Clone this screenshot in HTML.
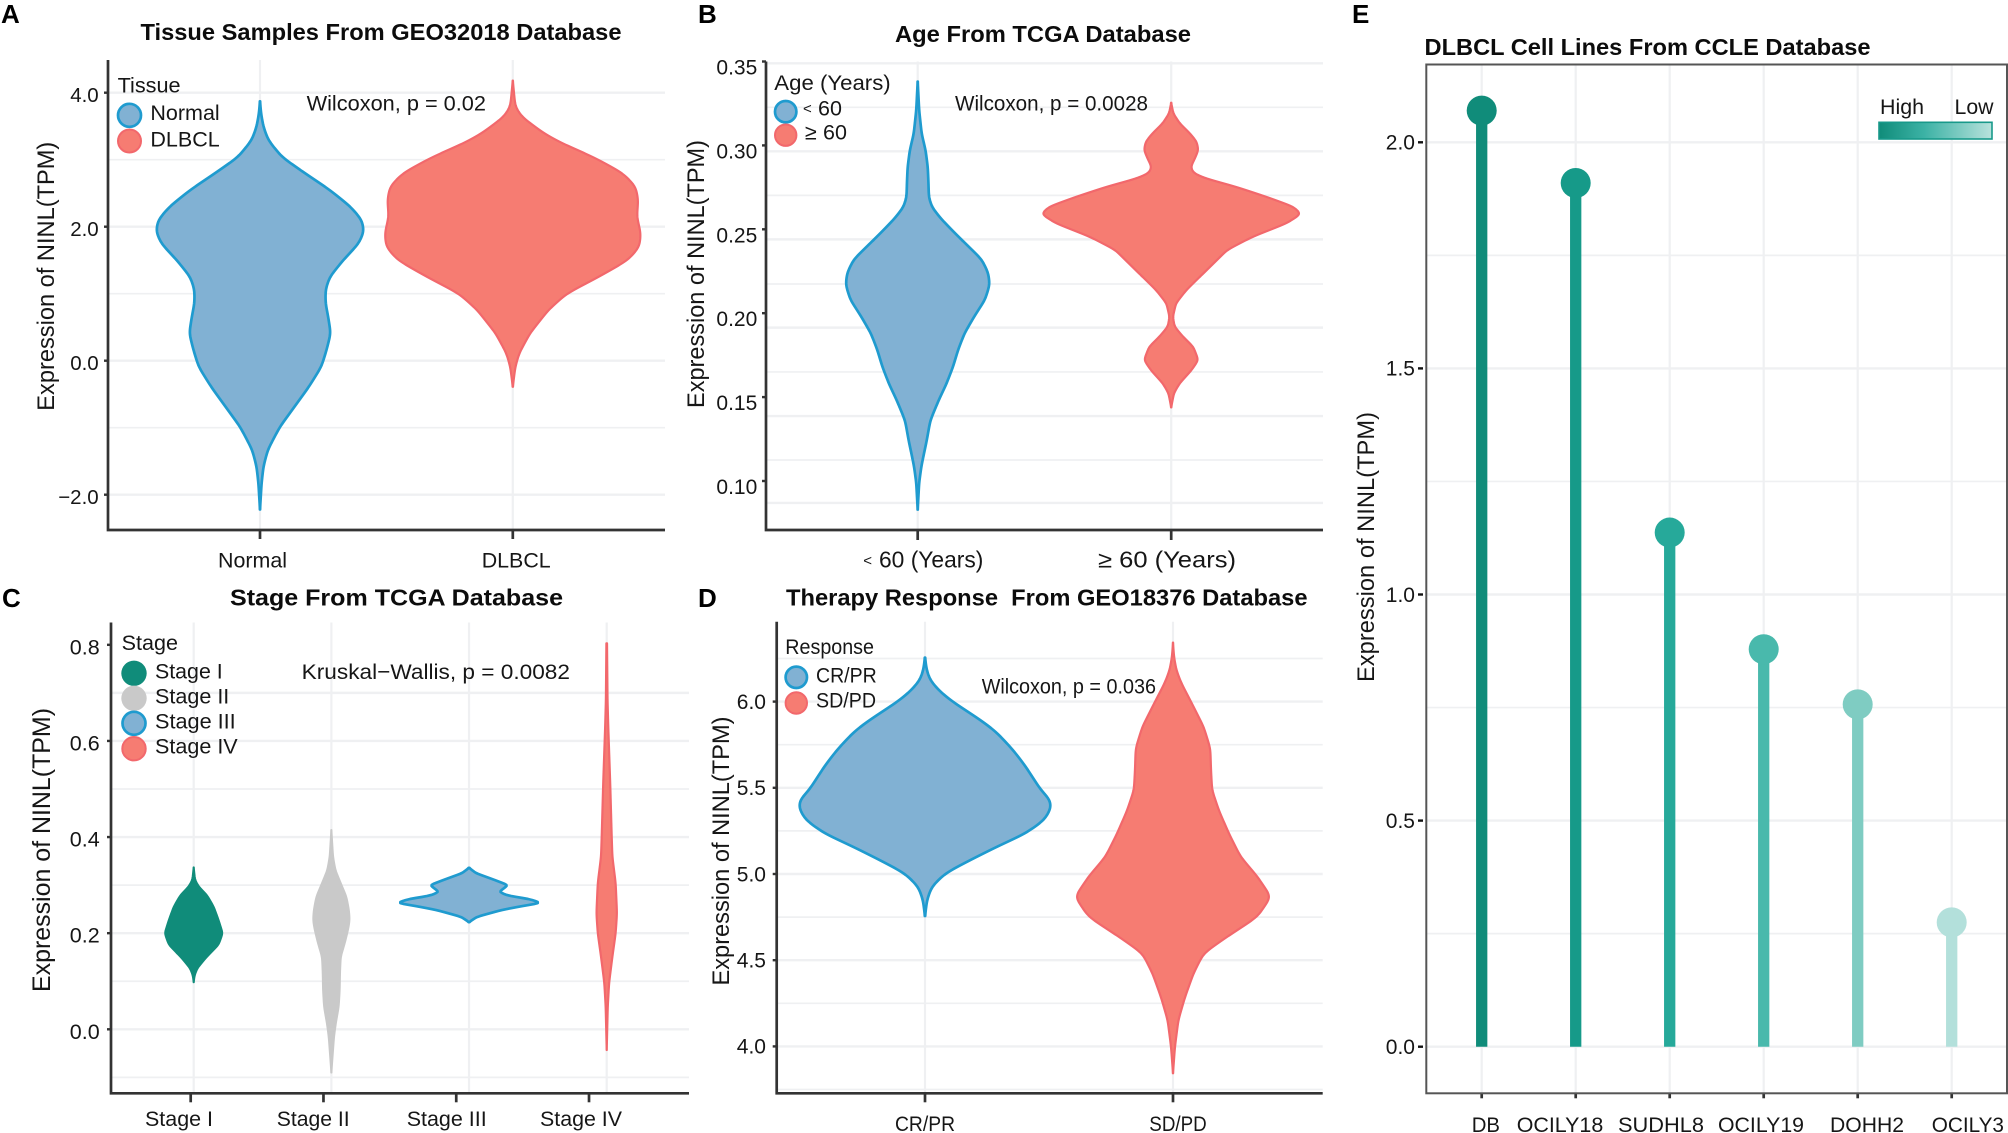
<!DOCTYPE html>
<html lang="en">
<head>
<meta charset="utf-8">
<title>NINL expression panels</title>
<style>
  html, body { margin: 0; padding: 0; background: #fff; }
  svg { display: block; }
  text { font-family: "Liberation Sans", Arial, sans-serif; fill: #161616; }
  .t { font-weight: 700; font-size: 23px; fill: #0c0c0c; }
  .p { font-weight: 700; font-size: 26px; fill: #000; }
  .l { font-size: 21.5px; }
</style>
</head>
<body>
<svg id="figure" xmlns="http://www.w3.org/2000/svg" width="2008" height="1133" viewBox="0 0 2008 1133">
  <rect width="2008" height="1133" fill="#fff"/>
  <g id="marks"></g>

  <text class="p" x="1" y="23">A</text>
  <text class="p" x="698" y="23">B</text>
  <text class="p" x="2" y="607">C</text>
  <text class="p" x="698" y="607">D</text>
  <text class="p" x="1352" y="23">E</text>

  <text class="t" x="140.5" y="40" textLength="481" lengthAdjust="spacingAndGlyphs">Tissue Samples From GEO32018 Database</text>
  <text class="t" x="895" y="42" textLength="296" lengthAdjust="spacingAndGlyphs">Age From TCGA Database</text>
  <text class="t" x="230" y="605.5" textLength="333" lengthAdjust="spacingAndGlyphs">Stage From TCGA Database</text>
  <text class="t" x="786" y="605.5" textLength="521.5" lengthAdjust="spacingAndGlyphs" xml:space="preserve">Therapy Response  From GEO18376 Database</text>
  <text class="t" x="1424.5" y="55" textLength="446" lengthAdjust="spacingAndGlyphs">DLBCL Cell Lines From CCLE Database</text>

  <text transform="translate(54,276.2) rotate(-90)" text-anchor="middle" font-size="24" textLength="269" lengthAdjust="spacingAndGlyphs">Expression of NINL(TPM)</text>
  <text transform="translate(704,274) rotate(-90)" text-anchor="middle" font-size="24" textLength="268" lengthAdjust="spacingAndGlyphs">Expression of NINL(TPM)</text>
  <text transform="translate(50,850) rotate(-90)" text-anchor="middle" font-size="25" textLength="284" lengthAdjust="spacingAndGlyphs">Expression of NINL(TPM)</text>
  <text transform="translate(729,851) rotate(-90)" text-anchor="middle" font-size="24" textLength="269" lengthAdjust="spacingAndGlyphs">Expression of NINL(TPM)</text>
  <text transform="translate(1374,547) rotate(-90)" text-anchor="middle" font-size="24" textLength="270" lengthAdjust="spacingAndGlyphs">Expression of NINL(TPM)</text>

  <!-- category labels -->
  <text class="l" x="218" y="567.3" textLength="69" lengthAdjust="spacingAndGlyphs">Normal</text>
  <text class="l" x="481.7" y="567.3" textLength="69" lengthAdjust="spacingAndGlyphs">DLBCL</text>
  <text x="863.3" y="567.3" font-size="22.8"><tspan font-size="15" dy="-2">&lt;</tspan><tspan x="879" dy="2">60 (Years)</tspan></text>
  <text x="1098" y="567.3" font-size="23" textLength="138" lengthAdjust="spacingAndGlyphs">≥ 60 (Years)</text>
  <text class="l" x="145" y="1126" textLength="68" lengthAdjust="spacingAndGlyphs">Stage I</text>
  <text class="l" x="276.7" y="1126" textLength="73" lengthAdjust="spacingAndGlyphs">Stage II</text>
  <text class="l" x="406.7" y="1126" textLength="80" lengthAdjust="spacingAndGlyphs">Stage III</text>
  <text class="l" x="540" y="1126" textLength="82" lengthAdjust="spacingAndGlyphs">Stage IV</text>
  <text class="l" x="895" y="1131" textLength="60" lengthAdjust="spacingAndGlyphs">CR/PR</text>
  <text class="l" x="1149.3" y="1131" textLength="57.4" lengthAdjust="spacingAndGlyphs">SD/PD</text>
  <text class="l" x="1471.7" y="1132" textLength="28.3" lengthAdjust="spacingAndGlyphs">DB</text>
  <text class="l" x="1516.7" y="1132" textLength="86.6" lengthAdjust="spacingAndGlyphs">OCILY18</text>
  <text class="l" x="1618" y="1132" textLength="86" lengthAdjust="spacingAndGlyphs">SUDHL8</text>
  <text class="l" x="1718" y="1132" textLength="86" lengthAdjust="spacingAndGlyphs">OCILY19</text>
  <text class="l" x="1830" y="1132" textLength="74" lengthAdjust="spacingAndGlyphs">DOHH2</text>
  <text class="l" x="1931.7" y="1132" textLength="72.3" lengthAdjust="spacingAndGlyphs">OCILY3</text>

  <!-- statistics -->
  <text class="l" x="306.6" y="110.7" textLength="179.4" lengthAdjust="spacingAndGlyphs">Wilcoxon, p = 0.02</text>
  <text class="l" x="955" y="110.7" textLength="193" lengthAdjust="spacingAndGlyphs">Wilcoxon, p = 0.0028</text>
  <text class="l" x="301.7" y="679" textLength="268.3" lengthAdjust="spacingAndGlyphs">Kruskal−Wallis, p = 0.0082</text>
  <text class="l" x="981.7" y="693.3" textLength="174.3" lengthAdjust="spacingAndGlyphs">Wilcoxon, p = 0.036</text>

  <!-- legend A -->
  <g>
    <text class="l" x="117.6" y="92.7" textLength="63" lengthAdjust="spacingAndGlyphs">Tissue</text>
    <circle cx="129.5" cy="115.3" r="11.5" fill="#81b1d3" stroke="#1f9bcf" stroke-width="2.7"/>
    <circle cx="129.5" cy="141" r="11.5" fill="#f67c72" stroke="#f2686c" stroke-width="2"/>
    <text class="l" x="150.4" y="120" textLength="69.3" lengthAdjust="spacingAndGlyphs">Normal</text>
    <text class="l" x="150.4" y="146.7" textLength="69.3" lengthAdjust="spacingAndGlyphs">DLBCL</text>
  </g>
  <!-- legend B -->
  <g>
    <text class="l" x="774.3" y="90" textLength="116.4" lengthAdjust="spacingAndGlyphs">Age (Years)</text>
    <circle cx="785.7" cy="111.7" r="10.7" fill="#81b1d3" stroke="#1f9bcf" stroke-width="2.7"/>
    <circle cx="785.7" cy="135.2" r="10.7" fill="#f67c72" stroke="#f2686c" stroke-width="2"/>
    <text class="l" x="803" y="115.7"><tspan font-size="15" dy="-2">&lt;</tspan><tspan x="818" dy="2">60</tspan></text>
    <text class="l" x="805" y="139.3">≥<tspan x="823">60</tspan></text>
  </g>
  <!-- legend C -->
  <g>
    <text class="l" x="121.7" y="650" textLength="56.3" lengthAdjust="spacingAndGlyphs">Stage</text>
    <circle cx="134" cy="673.3" r="12.7" fill="#108c7a"/>
    <circle cx="134" cy="698.3" r="12.7" fill="#c9c9c9"/>
    <circle cx="134" cy="723.3" r="11.5" fill="#81b1d3" stroke="#1f9bcf" stroke-width="2.7"/>
    <circle cx="134" cy="748.7" r="11.7" fill="#f67c72" stroke="#f2686c" stroke-width="2"/>
    <text class="l" x="155" y="678.3" textLength="67.7" lengthAdjust="spacingAndGlyphs">Stage I</text>
    <text class="l" x="155" y="703.3" textLength="74.3" lengthAdjust="spacingAndGlyphs">Stage II</text>
    <text class="l" x="155" y="728.3" textLength="80.7" lengthAdjust="spacingAndGlyphs">Stage III</text>
    <text class="l" x="155" y="753.3" textLength="82.7" lengthAdjust="spacingAndGlyphs">Stage IV</text>
  </g>
  <!-- legend D -->
  <g>
    <text class="l" x="785.3" y="654" textLength="88.7" lengthAdjust="spacingAndGlyphs">Response</text>
    <circle cx="796.3" cy="677.3" r="10.7" fill="#81b1d3" stroke="#1f9bcf" stroke-width="2.7"/>
    <circle cx="796.3" cy="703" r="10.7" fill="#f67c72" stroke="#f2686c" stroke-width="2"/>
    <text class="l" x="816" y="682.3" textLength="60.7" lengthAdjust="spacingAndGlyphs">CR/PR</text>
    <text class="l" x="816" y="707.7" textLength="60" lengthAdjust="spacingAndGlyphs">SD/PD</text>
  </g>
  <!-- legend E -->
  <defs>
    <linearGradient id="lowHigh" x1="0" x2="1" y1="0" y2="0">
      <stop offset="0" stop-color="#108c7a"/>
      <stop offset="0.4" stop-color="#3cb2a5"/>
      <stop offset="1" stop-color="#b8e2dc"/>
    </linearGradient>
  </defs>
  <g>
    <text class="l" x="1880" y="114" textLength="44" lengthAdjust="spacingAndGlyphs">High</text>
    <text class="l" x="1954.5" y="114" textLength="39" lengthAdjust="spacingAndGlyphs">Low</text>
    <rect x="1879" y="122.3" width="113" height="16.7" fill="url(#lowHigh)" stroke="#18998a" stroke-width="1.6"/>
  </g>
</svg>

<script>
// ---------- Panel A data ----------
const tissueTickValues = [4, 2, 0, -2];
const tissueTickLabels = ['4.0', '2.0', '0.0', '\u22122.0'];
const tissueGridMajor = [4, 2, 0, -2];
const tissueGridMinor = [3, 1, -1];
const normalLevels = [3.87, 3.69, 3.49, 3.29, 3.04, 2.80, 2.55, 2.30, 2.10, 1.93, 1.75, 1.50, 1.25, 1.06, 0.86, 0.66, 0.41, 0.16, -0.09, -0.39, -0.69, -0.99, -1.33, -1.58, -1.83, -2.22];
const normalDensity = [0, 0.01, 0.033, 0.08, 0.21, 0.43, 0.67, 0.87, 0.98, 1, 0.95, 0.80, 0.67, 0.63, 0.63, 0.655, 0.68, 0.64, 0.59, 0.47, 0.33, 0.19, 0.075, 0.033, 0.015, 0];
const dlbclLevels = [4.18, 3.79, 3.64, 3.39, 3.24, 3.04, 2.80, 2.60, 2.40, 2.15, 1.90, 1.70, 1.50, 1.25, 1.00, 0.76, 0.41, 0.11, -0.09, -0.39];
const dlbclDensity = [0, 0.02, 0.07, 0.245, 0.39, 0.63, 0.86, 0.96, 0.98, 0.97, 1, 0.99, 0.90, 0.67, 0.42, 0.28, 0.135, 0.05, 0.02, 0];

// ---------- Panel B data ----------
const ageTickValues = [0.35, 0.30, 0.25, 0.20, 0.15, 0.10];
const ageTickLabels = ['0.35', '0.30', '0.25', '0.20', '0.15', '0.10'];
const ageGridMajor = [0.3489, 0.2965, 0.2440, 0.1914, 0.1387, 0.0869];
const ageGridMinor = [0.3227, 0.2702, 0.2174, 0.1650, 0.1125];
const youngLevels = [0.338, 0.321, 0.307, 0.297, 0.287, 0.277, 0.269, 0.263, 0.256, 0.248, 0.240, 0.232, 0.224, 0.217, 0.208, 0.198, 0.188, 0.178, 0.168, 0.158, 0.148, 0.136, 0.124, 0.118, 0.1085, 0.099, 0.083];
const youngDensity = [0, 0.02, 0.055, 0.11, 0.14, 0.15, 0.155, 0.20, 0.33, 0.51, 0.70, 0.89, 0.98, 1, 0.935, 0.785, 0.65, 0.56, 0.49, 0.40, 0.29, 0.175, 0.125, 0.095, 0.05, 0.02, 0];
const olderLevels = [0.3254, 0.3191, 0.3132, 0.3072, 0.3022, 0.2973, 0.2923, 0.2873, 0.2834, 0.2804, 0.2754, 0.2694, 0.2635, 0.2591, 0.2536, 0.2456, 0.2377, 0.2297, 0.2218, 0.2138, 0.2059, 0.1979, 0.1920, 0.1860, 0.1800, 0.1721, 0.1661, 0.1582, 0.1523, 0.1439];
const olderDensity = [0, 0.016, 0.065, 0.144, 0.196, 0.209, 0.183, 0.151, 0.17, 0.261, 0.496, 0.731, 0.94, 1, 0.888, 0.627, 0.431, 0.326, 0.222, 0.117, 0.037, 0.013, 0.026, 0.091, 0.17, 0.209, 0.157, 0.065, 0.021, 0];

// ---------- Panel C data ----------
const stageTickValues = [0.8, 0.6, 0.4, 0.2, 0.0];
const stageTickLabels = ['0.8', '0.6', '0.4', '0.2', '0.0'];
const stageGridMajor = [0.7, 0.6, 0.4, 0.2, 0.0];
const stageGridMinor = [0.5, 0.3, 0.1, -0.1];
const stageOneLevels = [0.337, 0.311, 0.297, 0.279, 0.255, 0.227, 0.200, 0.176, 0.148, 0.127, 0.112, 0.098];
const stageOneDensity = [0, 0.046, 0.172, 0.46, 0.69, 0.86, 1, 0.86, 0.41, 0.125, 0.03, 0];
const stageTwoLevels = [0.4147, 0.359, 0.331, 0.304, 0.276, 0.248, 0.227, 0.207, 0.179, 0.151, 0.116, 0.082, 0.047, 0.012, -0.015, -0.043, -0.090];
const stageTwoDensity = [0, 0.09, 0.22, 0.51, 0.82, 0.96, 1, 0.91, 0.73, 0.51, 0.47, 0.455, 0.40, 0.24, 0.145, 0.09, 0];
const stageThreeLevels = [0.336, 0.325, 0.311, 0.300, 0.286, 0.278, 0.271, 0.263, 0.256, 0.248, 0.234, 0.223];
const stageThreeDensity = [0, 0.096, 0.35, 0.54, 0.42, 0.54, 0.84, 1, 0.72, 0.447, 0.11, 0];
const stageFourLevels = [0.803, 0.685, 0.63, 0.512, 0.401, 0.359, 0.304, 0.241, 0.200, 0.151, 0.096, 0.047, -0.043];
const stageFourDensity = [0.03, 0.08, 0.15, 0.34, 0.485, 0.55, 0.87, 1, 0.87, 0.55, 0.23, 0.10, 0];

// ---------- Panel D data ----------
const responseTickValues = [6.0, 5.5, 5.0, 4.5, 4.0];
const responseTickLabels = ['6.0', '5.5', '5.0', '4.5', '4.0'];
const responseGridMajor = [6.0, 5.5, 5.0, 4.5, 4.0];
const responseGridMinor = [6.25, 5.75, 5.25, 4.75, 4.25, 3.75];
const crLevels = [6.255, 6.183, 6.125, 6.067, 6.009, 5.951, 5.893, 5.835, 5.777, 5.700, 5.622, 5.487, 5.429, 5.381, 5.313, 5.236, 5.158, 5.081, 5.004, 4.926, 4.849, 4.756];
const crDensity = [0, 0.013, 0.04, 0.107, 0.20, 0.32, 0.44, 0.547, 0.627, 0.72, 0.80, 0.92, 0.995, 1, 0.947, 0.80, 0.57, 0.36, 0.16, 0.053, 0.016, 0];
const sdLevels = [6.342, 6.261, 6.183, 6.106, 6.028, 5.970, 5.854, 5.729, 5.603, 5.487, 5.371, 5.236, 5.100, 4.984, 4.868, 4.752, 4.636, 4.540, 4.424, 4.288, 4.153, 3.998, 3.844];
const sdDensity = [0, 0.01, 0.034, 0.086, 0.158, 0.21, 0.313, 0.381, 0.388, 0.399, 0.467, 0.57, 0.69, 0.863, 1, 0.863, 0.553, 0.313, 0.21, 0.124, 0.055, 0.02, 0];

// ---------- Panel E data ----------
const cellLines = ['DB', 'OCILY18', 'SUDHL8', 'OCILY19', 'DOHH2', 'OCILY3'];
const cellLineValues = [2.07, 1.91, 1.137, 0.879, 0.757, 0.275];
const cellTickValues = [2.0, 1.5, 1.0, 0.5, 0.0];
const cellTickLabels = ['2.0', '1.5', '1.0', '0.5', '0.0'];
const cellGridMajor = [2.0, 1.5, 1.0, 0.5, 0.0];
const cellGridMinor = [1.75, 1.25, 0.75, 0.25];
const rankPalette = ['#108c7a', '#169a89', '#26a99a', '#49b9ac', '#7fccc2', '#b3e0db'];

// ---------- drawing ----------
const SVG_NS = 'http://www.w3.org/2000/svg';
const root = document.getElementById('marks');
const GRID = '#eff0f2';
const AXIS = '#333333';
const BLUE = { fill: '#81b1d3', stroke: '#1f9bcf', width: 2.7 };
const RED = { fill: '#f67c72', stroke: '#f2686c', width: 2.2 };
const TEAL = { fill: '#108c7a', stroke: '#108c7a', width: 2 };
const GREY = { fill: '#c9c9c9', stroke: '#c9c9c9', width: 2 };

function node(tag, attrs, parent) {
  const el = document.createElementNS(SVG_NS, tag);
  for (const k in attrs) el.setAttribute(k, attrs[k]);
  (parent || root).appendChild(el);
  return el;
}

function linearY(y0, v0, pxPerUnit) {
  return function (v) { return y0 - (v - v0) * pxPerUnit; };
}

function gridH(list, width, y, left, right, name) {
  list.forEach(function (v) {
    const el = node('line', { x1: left, x2: right, y1: y(v), y2: y(v), stroke: GRID, 'stroke-width': width });
    
    
  });
}

function gridV(x, top, bottom, name) {
  const el = node('line', { x1: x, x2: x, y1: top, y2: bottom, stroke: GRID, 'stroke-width': 2.2 });
  
  
}

function yAxisTicks(values, labels, y, tickLeft, tickRight, labelX, baselineShift, size, color, name) {
  values.forEach(function (v, i) {
    const tick = node('line', { x1: tickLeft, x2: tickRight, y1: y(v), y2: y(v), stroke: color, 'stroke-width': 2.4 });
    
    
    const label = node('text', { x: labelX, y: y(v) + baselineShift, 'text-anchor': 'end', 'font-size': size });
    
    
    label.textContent = labels[i];
  });
}

function spines(left, top, right, bottom, name) {
  const el = node('path', { d: 'M' + left + ' ' + top + 'V' + bottom + 'H' + right, fill: 'none', stroke: AXIS, 'stroke-width': 2.7, 'stroke-linecap': 'butt' });
  
  
}

function xTick(x, y0, length, name) {
  const el = node('line', { x1: x, x2: x, y1: y0, y2: y0 + length, stroke: AXIS, 'stroke-width': 2.7 });
  
  
}

// Turn a level/density profile into a smooth outline: the profile is read along
// the pixel axis and softened with a small kernel, as a density estimate would be.
function outline(levels, density, y, sigma) {
  const top = y(levels[0]), bottom = y(levels[levels.length - 1]);
  const step = 1;
  const count = Math.max(2, Math.round((bottom - top) / step) + 1);
  const raw = [];
  let seg = 0;
  for (let i = 0; i < count; i++) {
    const py = top + (bottom - top) * i / (count - 1);
    while (seg < levels.length - 2 && y(levels[seg + 1]) < py) seg++;
    const a = y(levels[seg]), b = y(levels[seg + 1]);
    const t = b === a ? 0 : Math.min(1, Math.max(0, (py - a) / (b - a)));
    raw.push(density[seg] + (density[seg + 1] - density[seg]) * t);
  }
  const reach = Math.ceil(sigma * 3);
  const out = [];
  for (let i = 0; i < count; i++) {
    let sum = 0, weight = 0;
    for (let k = -reach; k <= reach; k++) {
      const j = Math.min(count - 1, Math.max(0, i + k));
      const w = Math.exp(-k * k / (2 * sigma * sigma));
      sum += raw[j] * w;
      weight += w;
    }
    out.push([sum / weight, top + (bottom - top) * i / (count - 1)]);
  }
  return out;
}

function violin(levels, density, cx, y, halfWidth, sigma, style, name) {
  const pts = outline(levels, density, y, sigma);
  let d = '';
  pts.forEach(function (p, i) {
    d += (i ? 'L' : 'M') + (cx + p[0] * halfWidth).toFixed(2) + ' ' + p[1].toFixed(2);
  });
  for (let i = pts.length - 1; i >= 0; i--) {
    d += 'L' + (cx - pts[i][0] * halfWidth).toFixed(2) + ' ' + pts[i][1].toFixed(2);
  }
  d += 'Z';
  const el = node('path', { d: d, fill: style.fill, stroke: style.stroke, 'stroke-width': style.width, 'stroke-linejoin': 'round' });
  
  
}

// Panel A
(function () {
  const y = linearY(360.7, 0, 67);
  const x = function (i) { return 260 + i * 252.8; };
  const L = 108, R = 665, T = 60, B = 530;
  gridH(tissueGridMinor, 1.7, y, L, R, 'grid-minor-a');
  gridH(tissueGridMajor, 2.4, y, L, R, 'grid-major-a');
  gridV(x(0), T, B, 'grid-vertical-normal');
  gridV(x(1), T, B, 'grid-vertical-dlbcl');
  violin(normalLevels, normalDensity, x(0), y, 104, 4, BLUE, 'violin-normal');
  violin(dlbclLevels, dlbclDensity, x(1), y, 128, 4, RED, 'violin-dlbcl');
  spines(L, T, R, B, 'axis-lines-a');
  yAxisTicks(tissueTickValues, tissueTickLabels, y, L - 4, L, 98.7, 9.5, 20.5, AXIS, 'y-axis-a');
  xTick(x(0), B, 9, 'x-tick-normal');
  xTick(x(1), B, 9, 'x-tick-dlbcl');
})();

// Panel B
(function () {
  const y = linearY(481, 0.10, 1678);
  const x = function (i) { return 917.7 + i * 253.5; };
  const L = 766, R = 1323, T = 61.5, B = 530;
  gridH(ageGridMinor, 1.7, y, L, R, 'grid-minor-b');
  gridH(ageGridMajor, 2.4, y, L, R, 'grid-major-b');
  gridV(x(0), T, B, 'grid-vertical-under-60');
  gridV(x(1), T, B, 'grid-vertical-over-60');
  violin(youngLevels, youngDensity, x(0), y, 72, 3.5, BLUE, 'violin-under-60');
  violin(olderLevels, olderDensity, x(1), y, 130, 2.2, RED, 'violin-over-60');
  spines(L, T, R, B, 'axis-lines-b');
  yAxisTicks(ageTickValues, ageTickLabels, y, L - 4, L, 757.3, 13, 21, AXIS, 'y-axis-b');
  xTick(x(0), B, 10, 'x-tick-under-60');
  xTick(x(1), B, 10, 'x-tick-over-60');
})();

// Panel C
(function () {
  const y = linearY(1029.3, 0, 480.6);
  const x = function (i) { return 193.7 + i * 137.67; };
  const tick = function (i) { return 190.7 + i * 132.77; };
  const L = 111, R = 689, T = 622.5, B = 1093.3;
  gridH(stageGridMinor, 1.7, y, L, R, 'grid-minor-c');
  gridH(stageGridMajor, 2.4, y, L, R, 'grid-major-c');
  [0, 1, 2, 3].forEach(function (i) { gridV(x(i), T, B, 'grid-vertical-stage'); });
  violin(stageOneLevels, stageOneDensity, x(0), y, 29, 2, TEAL, 'violin-stage-i');
  violin(stageTwoLevels, stageTwoDensity, x(1), y, 18.3, 3, GREY, 'violin-stage-ii');
  violin(stageThreeLevels, stageThreeDensity, x(2), y, 72, 0.9, BLUE, 'violin-stage-iii');
  violin(stageFourLevels, stageFourDensity, x(3), y, 10.3, 4, RED, 'violin-stage-iv');
  spines(L, T, R, B, 'axis-lines-c');
  yAxisTicks(stageTickValues, stageTickLabels, y, L - 4, L, 99.7, 9.5, 21.5, AXIS, 'y-axis-c');
  [0, 1, 2, 3].forEach(function (i) { xTick(tick(i), B, 9, 'x-tick-stage'); });
})();

// Panel D
(function () {
  const y = linearY(874, 5, 172.4);
  const x = function (i) { return 925 + i * 248; };
  const L = 776.7, R = 1322.7, T = 621.7, B = 1093.3;
  gridH(responseGridMinor, 1.7, y, L, R, 'grid-minor-d');
  gridH(responseGridMajor, 2.4, y, L, R, 'grid-major-d');
  gridV(x(0), T, B, 'grid-vertical-cr-pr');
  gridV(x(1), T, B, 'grid-vertical-sd-pd');
  violin(crLevels, crDensity, x(0), y, 126, 4, BLUE, 'violin-cr-pr');
  violin(sdLevels, sdDensity, x(1), y, 98, 4, RED, 'violin-sd-pd');
  spines(L, T, R, B, 'axis-lines-d');
  yAxisTicks(responseTickValues, responseTickLabels, y, L - 4, L, 766, 7.3, 21, AXIS, 'y-axis-d');
  xTick(x(0), B, 9, 'x-tick-cr-pr');
  xTick(x(1), B, 9, 'x-tick-sd-pd');
})();

// Panel E
(function () {
  const y = linearY(1046.7, 0, 452.2);
  const x = function (i) { return 1481.7 + i * 94; };
  const L = 1426.3, R = 2007, T = 64.5, B = 1093.3;
  gridH(cellGridMinor, 1.7, y, L, R, 'grid-minor-e');
  gridH(cellGridMajor, 2.4, y, L, R, 'grid-major-e');
  cellLines.forEach(function (c, i) { gridV(x(i), T, B, 'grid-vertical-cell-line'); });
  const ranked = cellLineValues.slice().sort(function (a, b) { return b - a; });
  cellLines.forEach(function (c, i) {
    const v = cellLineValues[i];
    const color = rankPalette[ranked.indexOf(v)];
    const stem = node('line', { x1: x(i), x2: x(i), y1: y(0), y2: y(v), stroke: color, 'stroke-width': 11.3 });
    
    
    const head = node('circle', { cx: x(i), cy: y(v), r: 15, fill: color });
    
    
    xTick(x(i), B, 5, 'x-tick-cell-line');
  });
  const frame = node('rect', { x: L, y: T, width: R - L, height: B - T, fill: 'none', stroke: '#555555', 'stroke-width': 2 });
  
  
  yAxisTicks(cellTickValues, cellTickLabels, y, 1418, 1423, 1415, 7.3, 21, '#111111', 'y-axis-e');
})();
</script>
</body>
</html>
